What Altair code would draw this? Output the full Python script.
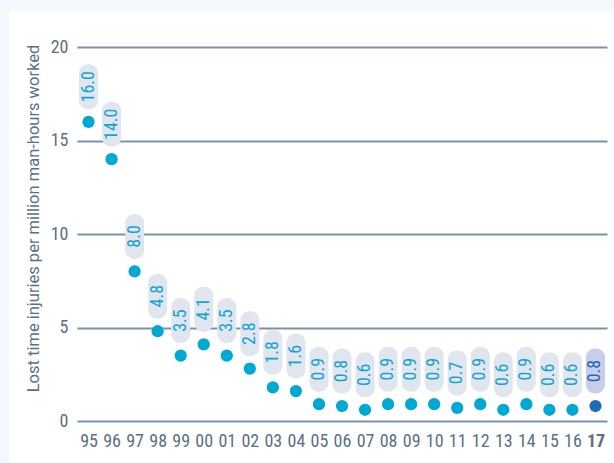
import altair as alt
import pandas as pd

years = ["95", "96", "97", "98", "99", "00", "01", "02", "03", "04", "05", "06",
         "07", "08", "09", "10", "11", "12", "13", "14", "15", "16", "17"]
values = [16.0, 14.0, 8.0, 4.8, 3.5, 4.1, 3.5, 2.8, 1.8, 1.6, 0.9, 0.8,
          0.6, 0.9, 0.9, 0.9, 0.7, 0.9, 0.6, 0.9, 0.6, 0.6, 0.8]
y_ticks = [0, 5, 10, 15, 20]
y_title = "Lost time injuries per million man-hours worked"

df = pd.DataFrame({"year": years, "value": values})
df["label"] = df["value"].map(lambda v: f"{v:.1f}")
df["latest"] = df["year"] == years[-1]

W, H = 530, 374
COND = "'Liberation Sans Narrow', 'Roboto Condensed', 'Arial Narrow', Roboto, sans-serif"
SLATE = "#5b6f85"
EDGE = "#f2f8fc"

x = alt.X("year:O", sort=years, scale=alt.Scale(type="point", padding=0.5),
          axis=alt.Axis(title=None, labelAngle=0, domain=False, ticks=False,
                        labelPadding=11, labelFont=COND, labelFontSize=18,
                        labelColor=SLATE,
                        labelFontWeight=alt.ExprRef("datum.value == '17' ? 'bold' : 'normal'")))
y = alt.Y("value:Q", scale=alt.Scale(domain=[0, 20]),
          axis=alt.Axis(values=y_ticks, title=y_title, domain=False, ticks=False,
                        grid=True, gridColor="#7a93a6", gridWidth=2,
                        labelPadding=9, labelFont=COND, labelFontSize=18,
                        labelColor=SLATE, titleFont="Roboto", titleFontSize=16.5,
                        titleFontWeight="normal", titleColor=SLATE,
                        titleAngle=270, titleX=-44, titleY=171,
                        titleAlign="center", titleBaseline="middle"))

one = alt.Data(values=[{"a": 1}])
left_strip = alt.Chart(one).mark_rect(color=EDGE).encode(
    x=alt.value(-77), x2=alt.value(-68), y=alt.value(-47), y2=alt.value(H + 42))
top_strip = alt.Chart(one).mark_rect(color=EDGE).encode(
    x=alt.value(-77), x2=alt.value(W + 7), y=alt.value(-47), y2=alt.value(-36))

base = alt.Chart(df)

boxes = base.mark_rect(width=19, height=45, cornerRadius=9, yOffset=-35).encode(
    x=x, y=y,
    color=alt.condition("datum.latest", alt.value("#c7cdea"), alt.value("#e1e6ee")))

labels = base.mark_text(angle=270, align="center", baseline="middle", yOffset=-35,
                        font=COND, fontSize=18).encode(
    x=x, y=y, text="label:N",
    color=alt.condition("datum.latest", alt.value("#2b63b1"), alt.value("#13a4d1")))

points = base.mark_circle(size=150, opacity=1).encode(
    x=x, y=y,
    color=alt.condition("datum.latest", alt.value("#1f6bb5"), alt.value("#00a8d4")))

chart = alt.layer(boxes, labels, points, left_strip, top_strip).properties(
    width=W, height=H,
    autosize=alt.AutoSizeParams(type="none"),
    padding={"left": 77, "top": 47, "right": 7, "bottom": 42},
    background="white",
).configure_view(stroke=None)

chart.save("out.html", embed_options={"renderer": "svg", "actions": False})
